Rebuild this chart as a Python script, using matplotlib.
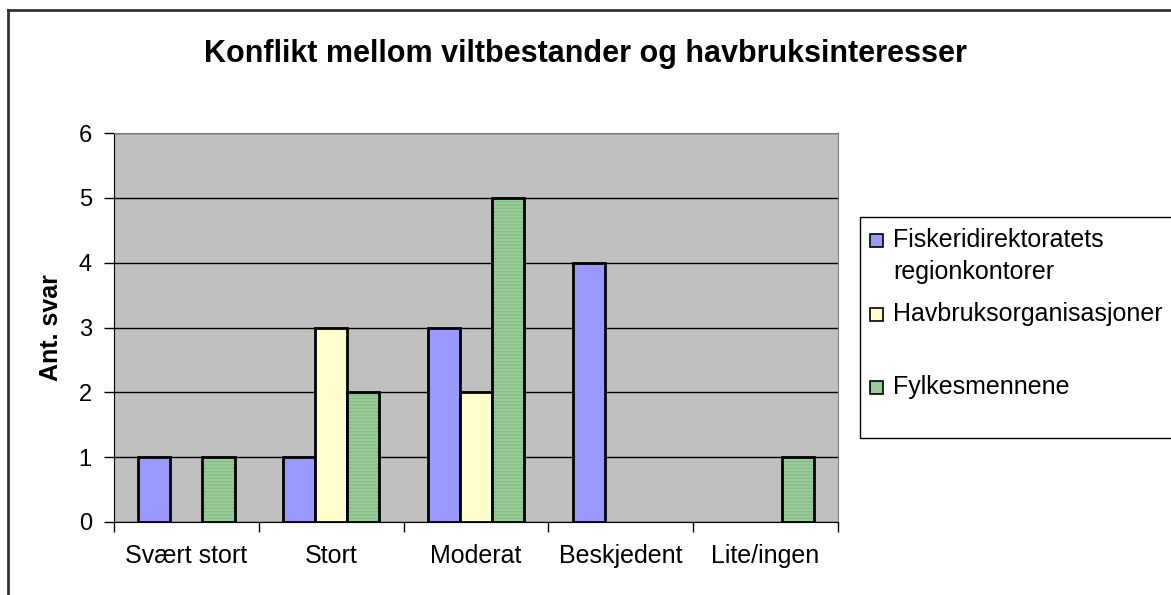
import numpy as np
import matplotlib.pyplot as plt
from matplotlib.patches import Rectangle
from matplotlib.lines import Line2D

categories = ['Svært stort', 'Stort', 'Moderat', 'Beskjedent', 'Lite/ingen']
series_names = ['Fiskeridirektoratets\nregionkontorer', 'Havbruksorganisasjoner', 'Fylkesmennene']
fiskeri = [1, 1, 3, 4, 0]
havbruk = [0, 3, 2, 0, 0]
fylke = [1, 2, 5, 0, 1]
yticks = [0, 1, 2, 3, 4, 5, 6]

plt.rcParams['font.family'] = ['Liberation Sans', 'DejaVu Sans']

W, H = 1171, 595
fig = plt.figure(figsize=(W / 100, H / 100), dpi=100)

def fx(x):
    return x / W

def fy(y):
    return 1 - y / H

def nz(v):
    # Excel draws nothing for a zero bar
    v = np.array(v, dtype=float)
    v[v == 0] = np.nan
    return v

# plot area in pixels
L, R, T, B = 114, 838, 133, 522
ax = fig.add_axes([fx(L), fy(B), fx(R - L), (B - T) / H])
ax.set_facecolor('#C0C0C0')

x = np.arange(len(categories))
w = 2 / 9
blue, yellow, green = '#9999FF', '#FFFFCC', '#99CC99'

ax.bar(x - w, nz(fiskeri), w, color=blue, edgecolor='black', linewidth=2, zorder=3)
ax.bar(x, nz(havbruk), w, color=yellow, edgecolor='black', linewidth=2, zorder=3)
# striped green: fill with hatch first, then black outline on top
ax.bar(x + w, nz(fylke), w, color=green, edgecolor='#86BF86', hatch='-----', linewidth=0, zorder=3)
ax.bar(x + w, nz(fylke), w, fill=False, edgecolor='black', linewidth=2, zorder=4)

ax.set_xlim(-0.5, len(categories) - 0.5)
ax.set_ylim(0, 6)
ax.set_yticks(yticks)
ax.yaxis.grid(True, color='black', linewidth=1)
ax.set_axisbelow(True)

ax.set_xticks(np.arange(-0.5, len(categories)), labels=[])
ax.set_xticks(x, labels=categories, minor=True)
ax.tick_params(axis='x', which='major', direction='out', length=7, width=1)
ax.tick_params(axis='x', which='minor', length=0, pad=16, labelsize=18)
ax.tick_params(axis='y', direction='out', length=7, width=1, labelsize=17, pad=9)

for s in ['top', 'right']:
    ax.spines[s].set_color('#808080')
for s in ['left', 'bottom']:
    ax.spines[s].set_color('black')

fig.text(fx(51), fy(328), 'Ant. svar', fontsize=18, fontweight='bold',
         rotation=90, ha='center', va='center')

fig.text(fx(585), fy(62), 'Konflikt mellom viltbestander og havbruksinteresser',
         fontsize=22, fontweight='bold', ha='center', va='baseline')

# outer chart border (top and left visible)
fig.add_artist(Line2D([fx(8), 1.0], [fy(10), fy(10)], color='#333333', linewidth=2))
fig.add_artist(Line2D([fx(8), fx(8)], [fy(10), 0.0], color='#333333', linewidth=2))

# legend box
fig.add_artist(Rectangle((fx(860), fy(438)), fx(W - 860 + 20), (438 - 217) / H,
                         facecolor='white', edgecolor='black', linewidth=1))
marker_y = [240, 314, 387]
colors = [blue, yellow, green]
for name, c, my in zip(series_names, colors, marker_y):
    fig.add_artist(Rectangle((fx(870), fy(my + 6.5)), fx(13), 13 / H,
                             facecolor=c, edgecolor='black', linewidth=1.2))
    for i, line in enumerate(name.split('\n')):
        fig.text(fx(893), fy(my + 7 + 32 * i), line, fontsize=18,
                 ha='left', va='baseline')

fig.savefig('out.png', dpi=100)
